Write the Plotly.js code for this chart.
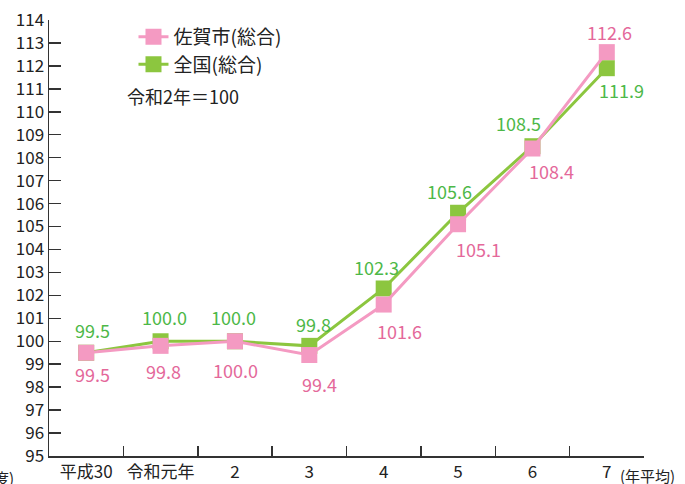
<!DOCTYPE html>
<html><head><meta charset="utf-8">
<script src="https://cdn.plot.ly/plotly-3.0.1.min.js"></script>
<style>html,body{margin:0;padding:0;background:#fff;}#chart{width:685px;height:484px;}</style>
</head><body><div id="chart"></div>
<script>
var categories = ["平成30", "令和元年", "2", "3", "4", "5", "6", "7"];
var sagaValues = [99.5, 99.8, 100.0, 99.4, 101.6, 105.1, 108.4, 112.6];
var zenkokuValues = [99.5, 100.0, 100.0, 99.8, 102.3, 105.6, 108.5, 111.9];
var sagaName = "佐賀市(総合)";
var zenkokuName = "全国(総合)";
var yTicks = [95,96,97,98,99,100,101,102,103,104,105,106,107,108,109,110,111,112,113,114];

// label offsets (pixels) from each marker, style only
var sagaLabelDx = [6, 3, 1, 10, 16, 20, 19, 3];
var sagaLabelDy = [-21, -25, -29, -29, -26, -25, -22, 20];
var zenLabelDx = [6, 4, -1, 4, -7, -9, -14, 15];
var zenLabelDy = [23, 24, 24, 22, 21, 22, 23, -22];

var FONT = "'Noto Sans CJK JP', 'Noto Sans', sans-serif";
var pink = "#f49ac2", green = "#8cc63f";
var pinkText = "#e4689a", greenText = "#4db848";

var traces = [
  {x: categories, y: zenkokuValues, name: zenkokuName, type: "scatter", mode: "lines+markers",
   line: {color: green, width: 3}, marker: {symbol: "square", size: 16, color: green}},
  {x: categories, y: sagaValues, name: sagaName, type: "scatter", mode: "lines+markers",
   line: {color: pink, width: 3}, marker: {symbol: "square", size: 16, color: pink}}
];

var annotations = [
  {text: "令和2年＝100", xref: "paper", yref: "paper", x: 0.128, y: 0.825, xanchor: "left", yanchor: "middle",
   showarrow: false, font: {family: FONT, size: 18, color: "#222"}},
  {text: "(年平均)", xref: "paper", yref: "paper", x: 0.957, y: -0.045, xanchor: "left", yanchor: "middle",
   showarrow: false, font: {family: FONT, size: 15, color: "#222"}},
  {text: "(年度)", xref: "paper", yref: "paper", x: -0.055, y: -0.05, xanchor: "right", yanchor: "middle",
   showarrow: false, font: {family: FONT, size: 15, color: "#222"}}
];
categories.forEach(function(c, i){
  annotations.push({x: c, y: zenkokuValues[i], xref: "x", yref: "y", text: zenkokuValues[i].toFixed(1),
    showarrow: false, xanchor: "center", yanchor: "middle", xshift: zenLabelDx[i], yshift: zenLabelDy[i],
    font: {family: FONT, size: 18, color: greenText}});
  annotations.push({x: c, y: sagaValues[i], xref: "x", yref: "y", text: sagaValues[i].toFixed(1),
    showarrow: false, xanchor: "center", yanchor: "middle", xshift: sagaLabelDx[i], yshift: sagaLabelDy[i],
    font: {family: FONT, size: 18, color: pinkText}});
});

var layout = {
  width: 685, height: 484,
  margin: {l: 49, r: 41, t: 20, b: 28},
  paper_bgcolor: "#fff", plot_bgcolor: "#fff",
  font: {family: FONT, size: 17, color: "#222"},
  showlegend: true,
  legend: {x: 0.142, y: 1.005, xanchor: "left", yanchor: "top", traceorder: "reversed",
           font: {family: FONT, size: 19, color: "#222"}, bgcolor: "rgba(0,0,0,0)", tracegroupgap: 0},
  xaxis: {type: "category", range: [-0.5, 7.5], showgrid: false, zeroline: false,
          showline: true, linecolor: "#333", linewidth: 1.5, tickangle: 0,
          ticks: "inside", tickson: "boundaries", ticklen: 10, tickcolor: "#333", tickwidth: 1.5,
          tickfont: {family: FONT, size: 17, color: "#222"}},
  yaxis: {range: [95, 114], tickvals: yTicks, showgrid: false, zeroline: false,
          showline: true, linecolor: "#333", linewidth: 1.5,
          ticks: "inside", ticklen: 12, tickcolor: "#333", tickwidth: 1.5,
          tickfont: {family: FONT, size: 17, color: "#222"}},
  annotations: annotations
};
Plotly.newPlot("chart", traces, layout, {displayModeBar: false, staticPlot: true});
</script></body></html>
